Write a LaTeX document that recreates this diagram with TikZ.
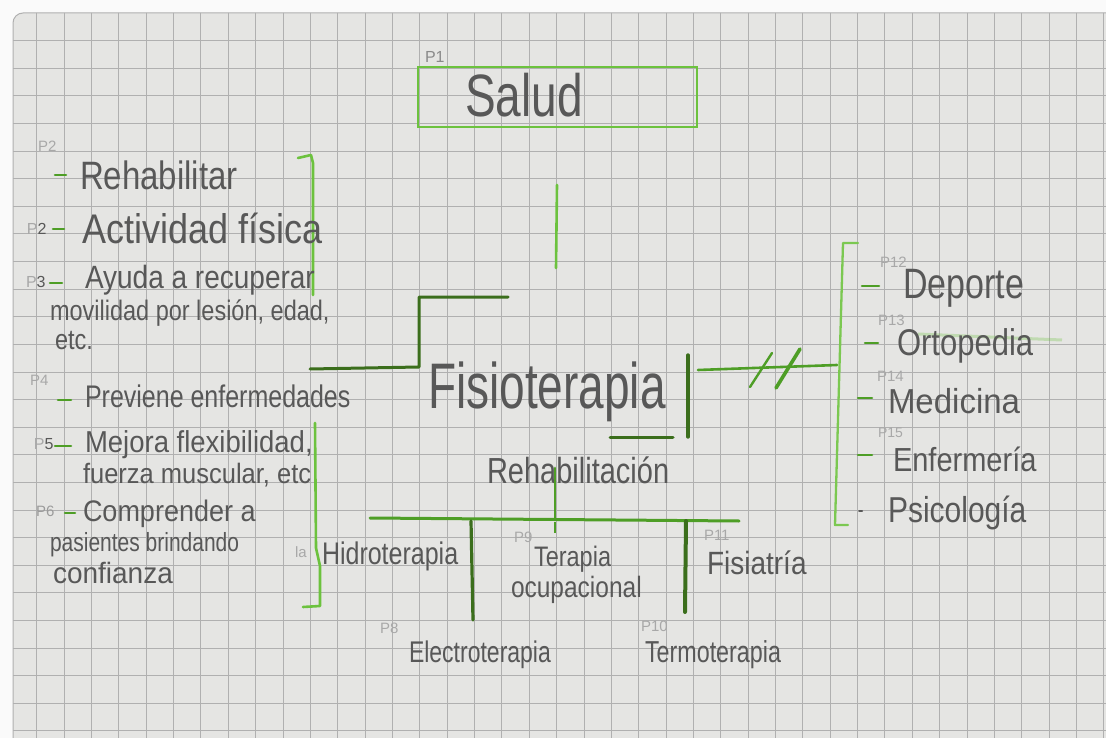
\documentclass[tikz,border=0pt]{standalone}
\usepackage{fontspec}
\setmainfont{Liberation Sans}
\usepackage{graphicx}
\definecolor{paper}{HTML}{E5E5E3}
\definecolor{gridc}{HTML}{B0B0B0}
\definecolor{pencil}{HTML}{585858}
\definecolor{faintc}{HTML}{A8A8A8}
\definecolor{lgreen}{HTML}{6CC23E}
\definecolor{mgreen}{HTML}{4E9E26}
\definecolor{dgreen}{HTML}{3B6E1C}
\newcommand{\hwr}[2][1.2]{\scalebox{1}[#1]{#2}}
\newcommand{\fsz}[1]{\fontsize{#1}{#1}\selectfont}
\begin{document}
\begin{tikzpicture}[x=1pt,y=-1pt,
  gridline/.style={draw=gridc, line width=1pt},
  grn/.style={draw=lgreen, line width=2.6pt, line cap=round, line join=round},
  mgrn/.style={draw=mgreen, line width=2.8pt, line cap=round, line join=round},
  dgrn/.style={draw=dgreen, line width=3pt, line cap=round, line join=round},
  dashmark/.style={draw=mgreen, line width=2.6pt, line cap=round},
  pen/.style={text=pencil, inner sep=0pt, outer sep=0pt, anchor=west},
  faint/.style={text=faintc, inner sep=0pt, outer sep=0pt, anchor=west, font=\fsz{15}}]
\useasboundingbox (0,0) rectangle (1106,738);
\clip (0,0) rectangle (1106,738);
% paper
\fill[white!96!gray] (0,0) rectangle (1106,738);
\fill[paper, rounded corners=10pt] (13,13) rectangle (1140,770);
\begin{scope}
  \clip[rounded corners=10pt] (13,13) rectangle (1140,770);
  \foreach \k in {-10,...,29} { \draw[gridline] ({310.4+27.36*\k},0) -- ++(0,760); }
  \foreach \k in {-1,...,24} { \draw[gridline] (0,{68.4+27.6*\k}) -- ++(1120,0); }
\end{scope}
\draw[gridline, rounded corners=10pt] (13,780) -- (13,13) -- (1140,13);

% ---------- Salud ----------
\node[draw=lgreen, line width=2.8pt, minimum width=279pt, minimum height=60pt, inner sep=0pt] (salud) at (557.5,97) {};
\node[pen, anchor=base west, font=\fsz{46}] (saludtxt) at (465,117) {\hwr[1.3]{Salud}};
\node[pen, font=\fsz{16}, text=pencil!70] (p1) at (425,57) {P1};
\coordinate (sv1) at (557,185);
\coordinate (sv2) at (556,268);
\draw[grn] (sv1) -- (sv2);

% ---------- Fisioterapia ----------
\node[pen, anchor=base west, font=\fsz{46}] (fisio) at (428,408) {\hwr[1.4]{Fisioterapia}};
\coordinate (fa) at (508,297);
\coordinate (fb) at (419,297);
\coordinate (fc) at (419,367);
\coordinate (fd) at (310,369);
\draw[dgrn] (fa) -- (fb) -- (fc) -- (fd);
\coordinate (fe) at (688,355);
\coordinate (ff) at (688,437);
\draw[dgrn, line width=3.4pt] (fe) -- (ff);
\coordinate (fg) at (610,437);
\coordinate (fh) at (673,437);
\draw[dgrn] (fg) -- (fh);

% ---------- Rehabilitacion ----------
\node[pen, anchor=base west, font=\fsz{29}] (rehabc) at (487,483) {\hwr[1.25]{Rehabilitación}};
\coordinate (rv1) at (555,468);
\coordinate (rv2) at (555,518);
\draw[mgrn] (rv1) -- (rv2);
\coordinate (rt1) at (555,522);
\coordinate (rt2) at (555,533);
\draw[draw=mgreen, line width=1.4pt] (rt1) -- (rt2);

% bottom bar and drops
\coordinate (bl) at (370,518);
\coordinate (br) at (739,521);
\draw[mgrn, line width=3pt] (bl) -- (br);
\coordinate (d1a) at (471,521);
\coordinate (d1b) at (473,620);
\draw[dgrn, line width=3.2pt] (d1a) -- (d1b);
\coordinate (d2a) at (686,521);
\coordinate (d2b) at (685,612);
\draw[dgrn, line width=4pt] (d2a) -- (d2b);

% bottom labels
\node[pen, font=\fsz{25}] (hidro) at (322,556) {\hwr[1.25]{Hidroterapia}};
\node[faint] (la) at (295,552) {la};
\node[faint] (p8) at (380,628) {P8};
\node[pen, font=\fsz{23}] (electro) at (409,655) {\hwr[1.3]{Electroterapia}};
\node[faint] (p9) at (514,537) {P9};
\node[pen, font=\fsz{23.5}] (terapia) at (534,559) {\hwr[1.2]{Terapia}};
\node[pen, font=\fsz{24.5}] (ocup) at (511,590) {\hwr[1.2]{ocupacional}};
\node[faint] (p10) at (641,626) {P10};
\node[pen, font=\fsz{23.3}] (termo) at (645,655) {\hwr[1.3]{Termoterapia}};
\node[faint] (p11) at (704,535) {P11};
\node[pen, font=\fsz{28}] (fisiat) at (707,563) {\hwr[1.15]{Fisiatría}};

% ---------- left bracket ----------
\coordinate (lb1) at (298,158);
\coordinate (lb2) at (311,155);
\coordinate (lb3) at (313,163);
\coordinate (lb4) at (313,295);
\draw[grn] (lb1) -- (lb2) -- (lb3) -- (lb4);
\coordinate (lc1) at (315,423);
\coordinate (lc2) at (316,548);
\coordinate (lc3) at (320,566);
\coordinate (lc4) at (320,606);
\coordinate (lc5) at (303,607);
\draw[grn] (lc1) -- (lc2) -- (lc3) -- (lc4) -- (lc5);

% left items
\node[faint] (p2a) at (38,146) {P2};
\draw[dashmark] (55,175) -- (66,175);
\node[pen, font=\fsz{33}] (rehab) at (80,175) {\hwr{Rehabilitar}};

\node[faint, font=\fsz{16}] (p2b) at (27,229) {P\textcolor{pencil}{2}};
\draw[dashmark] (53,229) -- (64,229);
\node[pen, font=\fsz{36}] (activ) at (82,228) {\hwr[1.15]{Actividad física}};

\node[faint, font=\fsz{16}] (p3) at (26,282) {P\textcolor{pencil}{3}};
\draw[dashmark] (50,283) -- (62,283);
\node[pen, font=\fsz{28}] (ayuda) at (85,280) {\hwr[1.15]{Ayuda a recuperar}};
\node[pen, font=\fsz{23.5}] (movil) at (50,313) {\hwr[1.2]{movilidad por lesión, edad,}};
\node[pen, font=\fsz{23.5}] (etc) at (55,341) {\hwr[1.2]{etc.}};

\node[faint] (p4) at (30,380) {P4};
\draw[dashmark] (58,400) -- (71,400);
\node[pen, font=\fsz{25}] (prev) at (85,396) {\hwr[1.25]{Previene enfermedades}};

\node[faint, font=\fsz{16}] (p5) at (34,444) {P\textcolor{pencil}{5}};
\draw[dashmark] (55,446) -- (71,446);
\node[pen, font=\fsz{27.5}] (mejora) at (85,445) {\hwr[1.1]{Mejora flexibilidad,}};
\node[pen, font=\fsz{25.5}] (fuerza) at (83,475) {\hwr[1.1]{fuerza muscular, etc}};

\node[faint, text=pencil!60] (p6) at (36,511) {P6};
\draw[dashmark] (65,513) -- (75,513);
\node[pen, font=\fsz{27}] (compr) at (83,514) {\hwr[1.1]{Comprender a}};
\node[pen, font=\fsz{21}] (pasient) at (50,545) {\hwr[1.25]{pasientes brindando}};
\node[pen, font=\fsz{28}] (confi) at (53,573) {\hwr[1.05]{confianza}};

% ---------- right side ----------
\coordinate (rc1) at (698,370);
\coordinate (rc2) at (837,365);
\draw[mgrn, line width=2.6pt] (rc1) -- (rc2);
\coordinate (sl1a) at (750,387);
\coordinate (sl1b) at (772,353);
\coordinate (sl2a) at (776,388);
\coordinate (sl2b) at (800,349);
\draw[mgrn, line width=2.4pt] (sl1a) -- (sl1b);
\draw[mgrn, line width=3.6pt] (sl2a) -- (sl2b);

\coordinate (rb1) at (858,243);
\coordinate (rb2) at (843,243);
\coordinate (rb3) at (835,525);
\coordinate (rb4) at (848,525);
\draw[grn, draw=lgreen!90!white, line width=2.3pt] (rb1) -- (rb2) -- (rb3) -- (rb4);

\node[faint] (p12) at (880,262) {P12};
\draw[dashmark] (862,286) -- (879,286);
\node[pen, font=\fsz{34}] (deporte) at (903,288) {\hwr[1.25]{Deporte}};

\draw[draw=lgreen, opacity=0.3, line width=3pt] (918,334) -- (1062,340);
\node[faint] (p13) at (878,320) {P13};
\draw[dashmark] (865,343) -- (878,343);
\node[pen, font=\fsz{31}] (orto) at (897,346) {\hwr[1.2]{Ortopedia}};

\node[faint] (p14) at (877,376) {P14};
\draw[dashmark] (858,398) -- (872,398);
\node[pen, font=\fsz{33}] (medic) at (888,401) {\hwr[1.05]{Medicina}};

\node[faint, font=\fsz{14}] (p15) at (878,433) {P15};
\draw[dashmark] (858,455) -- (872,455);
\node[pen, font=\fsz{29}] (enfer) at (893,459) {\hwr[1.15]{Enfermería}};

\draw[draw=pencil, line width=2pt, line cap=round] (859,511) -- (862,511);
\node[pen, font=\fsz{30}] (psico) at (888,513) {\hwr[1.2]{Psicología}};
\end{tikzpicture}
\end{document}
